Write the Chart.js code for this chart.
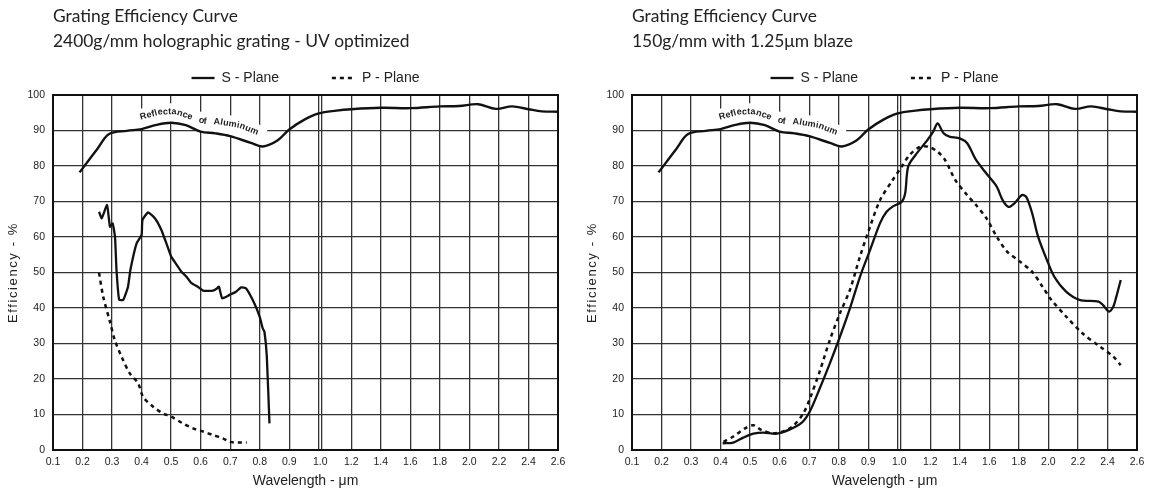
<!DOCTYPE html>
<html>
<head>
<meta charset="utf-8">
<script src="https://cdn.jsdelivr.net/npm/chart.js@4.4.1/dist/chart.umd.min.js"></script>
<style>
  html, body { margin: 0; padding: 0; background: #fff; overflow: hidden; }
  canvas { position: absolute; top: 0; }
  #uvChart { left: 0; }
  #irChart { left: 579px; }
</style>
</head>
<body>
<canvas id="uvChart" width="572" height="490"></canvas>
<canvas id="irChart" width="572" height="490"></canvas>
<script>
// Wavelength axis: 0.1 steps up to 1.0, then 0.2 steps up to 2.6 (scale changes at 1.0)
const tickWavelengths = [0.1, 0.2, 0.3, 0.4, 0.5, 0.6, 0.7, 0.8, 0.9, 1.0, 1.2, 1.4, 1.6, 1.8, 2.0, 2.2, 2.4, 2.6];
const tickLabels = ['0.1', '0.2', '0.3', '0.4', '0.5', '0.6', '0.7', '0.8', '0.9', '1.0', '1.2', '1.4', '1.6', '1.8', '2.0', '2.2', '2.4', '2.6'];

// Reflectance of aluminum (same curve on both plots)
const aluminumWl  = [0.19, 0.25, 0.29, 0.35, 0.40, 0.45, 0.50, 0.55, 0.60, 0.65, 0.70, 0.77, 0.81, 0.86, 0.90, 0.95, 1.0, 1.1, 1.2, 1.4, 1.6, 1.8, 1.93, 2.06, 2.18, 2.29, 2.4, 2.49, 2.6];
const aluminumPct = [78.2, 84.8, 89.0, 89.9, 90.4, 91.6, 92.2, 91.5, 89.7, 89.2, 88.4, 86.5, 85.5, 87.2, 90.3, 93.0, 94.8, 95.6, 96.0, 96.4, 96.3, 96.8, 96.9, 97.4, 96.1, 96.8, 96.0, 95.4, 95.3];

// 2400g/mm holographic grating - UV optimized
const uvSWl  = [0.256, 0.265, 0.283, 0.293, 0.302, 0.31, 0.315, 0.324, 0.338, 0.354, 0.362, 0.383, 0.40, 0.403, 0.422, 0.445, 0.467, 0.484, 0.50, 0.512, 0.535, 0.552, 0.569, 0.59, 0.608, 0.642, 0.655, 0.662, 0.673, 0.698, 0.72, 0.737, 0.754, 0.782, 0.80, 0.81, 0.816, 0.824, 0.833];
const uvSPct = [67.1, 65.3, 69.0, 62.9, 63.8, 60.0, 50.7, 42.3, 42.3, 46.0, 50.7, 58.2, 60.6, 64.8, 66.9, 65.3, 62.0, 58.2, 54.5, 53.0, 50.2, 48.8, 47.0, 46.0, 44.9, 44.9, 45.5, 46.0, 42.7, 43.7, 44.6, 45.8, 45.5, 41.3, 37.5, 34.3, 33.3, 26.3, 7.5];
const uvPWl  = [0.256, 0.27, 0.293, 0.309, 0.332, 0.36, 0.388, 0.405, 0.439, 0.473, 0.50, 0.54, 0.574, 0.608, 0.642, 0.675, 0.698, 0.726, 0.756];
const uvPPct = [49.9, 43.2, 36.1, 31.0, 26.3, 21.6, 18.8, 15.0, 12.2, 10.3, 9.4, 7.5, 6.1, 5.2, 4.2, 3.3, 2.3, 2.1, 2.1];

// 150g/mm with 1.25um blaze
const irSWl  = [0.407, 0.443, 0.477, 0.511, 0.545, 0.59, 0.635, 0.675, 0.703, 0.737, 0.77, 0.804, 0.838, 0.872, 0.906, 0.94, 0.962, 0.985, 1.006, 1.03, 1.05, 1.1, 1.18, 1.22, 1.25, 1.29, 1.33, 1.40, 1.45, 1.51, 1.58, 1.65, 1.69, 1.73, 1.77, 1.82, 1.85, 1.89, 1.93, 1.99, 2.04, 2.12, 2.21, 2.34, 2.37, 2.41, 2.44, 2.46, 2.49];
const irSPct = [1.9, 2.1, 3.5, 4.6, 4.9, 4.6, 5.8, 7.7, 11.0, 17.6, 24.4, 31.9, 39.9, 48.8, 56.3, 63.9, 67.1, 68.7, 69.9, 72.3, 79.8, 83.1, 87.3, 89.7, 92.0, 89.2, 88.3, 87.8, 86.4, 81.7, 77.9, 74.2, 70.4, 68.5, 69.5, 71.8, 71.3, 66.7, 60.1, 53.5, 48.8, 44.6, 42.3, 41.8, 40.8, 39.0, 40.4, 43.2, 47.9];
const irPWl  = [0.41, 0.443, 0.483, 0.511, 0.539, 0.578, 0.612, 0.646, 0.68, 0.703, 0.737, 0.77, 0.804, 0.838, 0.872, 0.906, 0.94, 0.979, 1.006, 1.06, 1.13, 1.19, 1.25, 1.30, 1.37, 1.45, 1.51, 1.58, 1.65, 1.72, 1.81, 1.89, 1.96, 2.02, 2.12, 2.23, 2.35, 2.44, 2.49];
const irPPct = [2.3, 3.8, 6.1, 7.0, 5.6, 4.7, 5.2, 6.8, 10.3, 14.6, 22.5, 31.0, 38.5, 45.1, 54.5, 62.9, 70.4, 75.6, 79.8, 83.1, 85.4, 85.4, 84.0, 81.7, 76.0, 71.8, 69.0, 65.3, 60.1, 55.9, 53.0, 50.2, 46.0, 42.3, 37.6, 32.9, 29.1, 26.3, 23.9];

const FONT = 'Liberation Sans, Arial, sans-serif';
const INK = '#222';
const GRID = '#333';
const BREAK = 0.1; // small gap between the two halves of the axis (the double line at 1.0)

// wavelength -> position on the linear x scale (one unit per grid cell)
function toAxis(w) {
    return w <= 1.0 ? (w - 0.1) / 0.1 : 9 + BREAK + (w - 1.0) / 0.2;
}

const xTicks = [];
tickWavelengths.forEach((w, i) => {
    if (w === 1.0) {
        xTicks.push({ value: 9, label: '' });
        xTicks.push({ value: 9 + BREAK / 2, label: tickLabels[i], noGrid: true });
        xTicks.push({ value: 9 + BREAK, label: '' });
    } else {
        xTicks.push({ value: toAxis(w), label: tickLabels[i] });
    }
});

function points(wl, pct) {
    return wl.map((w, i) => ({ x: toAxis(w), y: pct[i] }));
}

// text bent along the aluminum curve, with white behind it so grid lines stop at the text
const curvedLabel = {
    id: 'curvedLabel',
    beforeDatasetsDraw(chart, args, opts) {
        const { ctx, scales: { x, y } } = chart;
        const pts = opts.path.map(([w, v]) => ({ x: x.getPixelForValue(toAxis(w)), y: y.getPixelForValue(v) }));
        const first = pts[0], last = pts[pts.length - 1];
        const curve = chart.getDatasetMeta(0).data.filter(p => p.x > first.x - 18 && p.x < last.x + 8);

        ctx.save();
        ctx.fillStyle = '#fff';
        ctx.beginPath();
        pts.forEach((p, i) => i ? ctx.lineTo(p.x, p.y - opts.clear) : ctx.moveTo(p.x, p.y - opts.clear));
        ctx.lineTo(last.x + 8, last.y - opts.clear + 4);
        curve.slice().reverse().forEach(p => ctx.lineTo(p.x, p.y));
        ctx.closePath();
        ctx.fill();

        const segs = [];
        let total = 0;
        for (let i = 1; i < pts.length; i++) {
            const len = Math.hypot(pts[i].x - pts[i - 1].x, pts[i].y - pts[i - 1].y);
            segs.push({ a: pts[i - 1], b: pts[i], start: total, len });
            total += len;
        }
        ctx.font = opts.font;
        ctx.fillStyle = INK;
        ctx.textAlign = 'center';
        ctx.textBaseline = 'alphabetic';
        let s = 0;
        for (const ch of opts.text) {
            const w = ch === ' ' ? opts.wordGap : ctx.measureText(ch).width;
            const mid = s + w / 2;
            const seg = segs.find(g => mid <= g.start + g.len) || segs[segs.length - 1];
            const t = (mid - seg.start) / seg.len;
            if (ch !== ' ') {
                ctx.save();
                ctx.translate(seg.a.x + t * (seg.b.x - seg.a.x), seg.a.y + t * (seg.b.y - seg.a.y));
                ctx.rotate(Math.atan2(seg.b.y - seg.a.y, seg.b.x - seg.a.x));
                ctx.fillText(ch, 0, 0);
                ctx.restore();
            }
            s += w + opts.spacing;
        }
        ctx.restore();
    }
};

// heavier outer frame around the plot
const frame = {
    id: 'frame',
    afterDatasetsDraw(chart) {
        const { ctx, chartArea: a } = chart;
        ctx.save();
        ctx.strokeStyle = '#111';
        ctx.lineWidth = 2;
        ctx.strokeRect(a.left, a.top, a.right - a.left, a.bottom - a.top);
        ctx.restore();
    }
};

// y axis title, letter-spaced like the original
const yTitle = {
    id: 'yTitle',
    afterDraw(chart, args, opts) {
        const { ctx, chartArea: a } = chart;
        ctx.save();
        ctx.translate(opts.x, (a.top + a.bottom) / 2);
        ctx.rotate(-Math.PI / 2);
        ctx.font = opts.font;
        ctx.letterSpacing = opts.letterSpacing;
        ctx.fillStyle = INK;
        ctx.textAlign = 'center';
        ctx.textBaseline = 'middle';
        ctx.fillText(opts.text, 0, 0);
        ctx.restore();
    }
};

function makeChart(id, subtitle, sWl, sPct, pWl, pPct, sTension) {
    const ctx = document.getElementById(id).getContext('2d');
    return new Chart(ctx, {
        type: 'line',
        data: {
            datasets: [{
                label: 'Reflectance of Aluminum',
                data: points(aluminumWl, aluminumPct),
                borderColor: '#111',
                borderWidth: 2.4,
                pointRadius: 0,
                tension: 0.35
            }, {
                label: 'S - Plane',
                data: points(sWl, sPct),
                borderColor: '#111',
                borderWidth: 2.3,
                pointRadius: 0,
                pointStyle: 'line',
                tension: sTension
            }, {
                label: 'P - Plane',
                data: points(pWl, pPct),
                borderColor: '#111',
                borderWidth: 2.5,
                borderDash: [4, 4],
                pointRadius: 0,
                pointStyle: 'line',
                tension: 0.3
            }]
        },
        options: {
            responsive: false,
            devicePixelRatio: 1,
            animation: false,
            layout: { padding: { left: 0, right: 14, top: 0, bottom: 0 } },
            plugins: {
                title: {
                    display: true,
                    text: ['Grating Efficiency Curve', subtitle],
                    align: 'start',
                    fullSize: false,
                    color: INK,
                    font: { family: 'Lato', size: 17.4, weight: 'normal', lineHeight: 1.437 },
                    padding: { top: 4, bottom: 7 }
                },
                legend: {
                    fullSize: false,
                    labels: {
                        usePointStyle: true,
                        pointStyleWidth: 23,
                        color: INK,
                        padding: 10,
                        font: { family: FONT, size: 14 },
                        generateLabels(chart) {
                            return Chart.defaults.plugins.legend.labels.generateLabels(chart)
                                .filter(item => item.datasetIndex > 0)
                                .map(item => {
                                    const ds = chart.data.datasets[item.datasetIndex];
                                    item.lineWidth = ds.borderWidth;
                                    item.lineDash = ds.borderDash || [];
                                    item.strokeStyle = ds.borderColor;
                                    if (item.datasetIndex === 1) item.text += '           ';
                                    return item;
                                });
                        }
                    }
                },
                tooltip: { enabled: false },
                curvedLabel: {
                    text: 'Reflectance of Aluminum',
                    path: [[0.397, 93.0], [0.461, 94.5], [0.512, 94.6], [0.563, 93.2], [0.614, 91.8], [0.664, 91.7], [0.732, 90.7], [0.80, 88.5]],
                    font: 'bold 9px ' + FONT,
                    wordGap: 6.5,
                    spacing: 0.2,
                    clear: 11
                },
                yTitle: {
                    text: 'Efficiency - %',
                    x: 13,
                    font: '13px ' + FONT,
                    letterSpacing: '1.6px'
                }
            },
            scales: {
                x: {
                    type: 'linear',
                    min: 0,
                    max: toAxis(2.6),
                    afterBuildTicks: scale => { scale.ticks = xTicks.map(t => ({ value: t.value })); },
                    afterFit: scale => { scale.height = 40; },
                    border: { display: false },
                    grid: {
                        drawTicks: false,
                        lineWidth: 1.3,
                        color: c => (xTicks[c.index] && xTicks[c.index].noGrid) ? 'rgba(0,0,0,0)' : GRID
                    },
                    ticks: {
                        autoSkip: false,
                        maxRotation: 0,
                        padding: 6,
                        color: INK,
                        font: { family: FONT, size: 10.5 },
                        callback: (value, index) => xTicks[index] ? xTicks[index].label : ''
                    },
                    title: {
                        display: true,
                        text: 'Wavelength - \u03bcm',
                        color: INK,
                        font: { family: FONT, size: 14 },
                        padding: { top: 0, bottom: 0 }
                    }
                },
                y: {
                    min: 0,
                    max: 100,
                    afterFit: scale => { scale.width = 53; },
                    border: { display: false },
                    grid: { drawTicks: false, lineWidth: 1.3, color: GRID },
                    ticks: {
                        stepSize: 10,
                        padding: 8,
                        color: INK,
                        font: { family: FONT, size: 10.5 }
                    }
                }
            }
        },
        plugins: [curvedLabel, frame, yTitle]
    });
}

window.addEventListener('load', () => {
    makeChart('uvChart', '2400g/mm holographic grating - UV optimized', uvSWl, uvSPct, uvPWl, uvPPct, 0.15);
    makeChart('irChart', '150g/mm with 1.25\u03bcm blaze', irSWl, irSPct, irPWl, irPPct, 0.3);
});
</script>
</body>
</html>
